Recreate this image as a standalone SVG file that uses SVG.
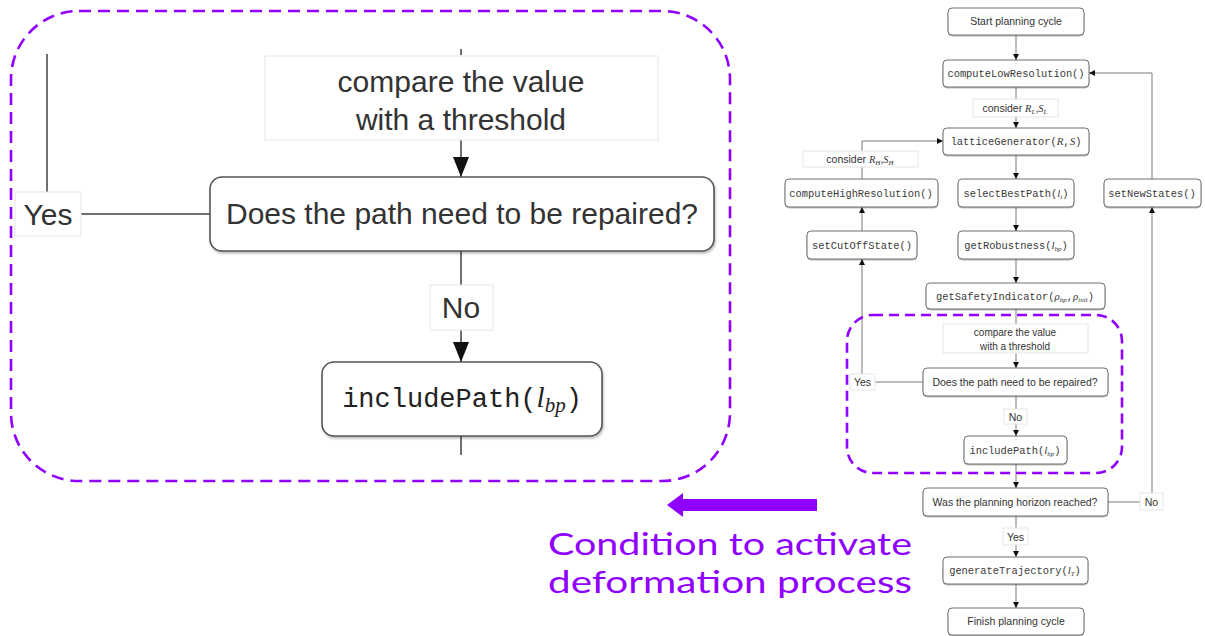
<svg xmlns="http://www.w3.org/2000/svg" width="1205" height="636" viewBox="0 0 1205 636">
  <style>
    .bg { fill: #ffffff; }
    .box { fill: #ffffff; stroke: #6e6e6e; stroke-width: 1; filter: drop-shadow(0.6px 1px 0.6px rgba(0,0,0,0.25)); }
    .bigbox { fill: #ffffff; stroke: #555555; stroke-width: 1.6; filter: drop-shadow(1px 2px 1px rgba(0,0,0,0.25)); }
    .lbl { fill: #ffffff; stroke: #e6e6e6; stroke-width: 1; }
    .edge { fill: none; stroke: #7a7a7a; stroke-width: 1; }
    .bigedge { fill: none; stroke: #707070; stroke-width: 2; }
    .sans { font-family: "Liberation Sans", Arial, sans-serif; fill: #333333; }
    .mono { font-family: "Liberation Mono", "Courier New", monospace; fill: #3a3a3a; }
    .mi { font-family: "Liberation Serif", "Times New Roman", serif; font-style: italic; }
    .s { font-size: 10.5px; }
    .m { font-size: 10.4px; }
    .big { font-size: 30px; }
    .bigm { font-size: 27px; fill: #222222; }
    .zone { fill: none; stroke: #9000ff; stroke-width: 2.6; stroke-dasharray: 12 7; }
    .zone-s { fill: none; stroke: #9000ff; stroke-width: 2.6; stroke-dasharray: 10 6; }
    .note { font-family: Lato, "Open Sans", sans-serif; font-size: 31px; fill: #9000ff; }
  </style>
  <defs>
    <marker id="ah-s" viewBox="0 0 10 10" refX="10" refY="5" markerWidth="6" markerHeight="6" markerUnits="userSpaceOnUse" orient="auto">
      <path d="M0,0 L10,5 L0,10 z" fill="#111111"/>
    </marker>
    <marker id="ah-b" viewBox="0 0 10 8" refX="10" refY="4" markerWidth="20" markerHeight="16" markerUnits="userSpaceOnUse" orient="auto">
      <path d="M0,0 L10,4 L0,8 z" fill="#111111"/>
    </marker>
  </defs>

  <rect class="bg" x="0" y="0" width="1205" height="636"/>

  <!-- ===== enlarged view of the repair decision ===== -->
  <g id="zoom-connectors">
    <line class="bigedge" x1="461" y1="49" x2="461" y2="55"/>
    <line class="bigedge" x1="461" y1="140" x2="461" y2="177" marker-end="url(#ah-b)"/>
    <line class="bigedge" x1="461" y1="251" x2="461" y2="285"/>
    <line class="bigedge" x1="461" y1="330" x2="461" y2="362" marker-end="url(#ah-b)"/>
    <line class="bigedge" x1="461" y1="436" x2="461" y2="455"/>
    <line class="bigedge" x1="81" y1="214" x2="210" y2="214"/>
    <line class="bigedge" x1="47" y1="192" x2="47" y2="54"/>
  </g>

  <g id="zoom-compare">
    <rect class="lbl" x="265" y="56" width="393" height="84"/>
    <text class="sans big" x="461" y="92" text-anchor="middle">compare the value</text>
    <text class="sans big" x="461" y="130" text-anchor="middle">with a threshold</text>
  </g>

  <g id="zoom-decision">
    <rect class="bigbox" x="210" y="177" width="504" height="74" rx="12"/>
    <text class="sans big" x="462" y="224" text-anchor="middle">Does the path need to be repaired?</text>
  </g>

  <g id="zoom-yes">
    <rect class="lbl" x="15" y="192" width="66" height="44"/>
    <text class="sans big" x="48" y="225" text-anchor="middle">Yes</text>
  </g>

  <g id="zoom-no">
    <rect class="lbl" x="430" y="285" width="63" height="45"/>
    <text class="sans big" x="461" y="318" text-anchor="middle">No</text>
  </g>

  <g id="zoom-include">
    <rect class="bigbox" x="322" y="362" width="280" height="74" rx="12"/>
    <text class="mono bigm" x="462" y="407" text-anchor="middle">includePath(<tspan class="mi" font-size="29">l</tspan><tspan class="mi" font-size="21" dy="5">bp</tspan><tspan dy="-5">)</tspan></text>
  </g>

  <rect id="zoom-frame" class="zone" x="11" y="11" width="719" height="470" rx="68"/>

  <!-- ===== pointer and caption ===== -->
  <g id="pointer">
    <rect x="678" y="499" width="139" height="12" fill="#9000ff"/>
    <path d="M667,505 L683,493 L683,517 z" fill="#9000ff"/>
  </g>
  <g id="caption">
    <text class="note" x="548" y="555" textLength="364" lengthAdjust="spacingAndGlyphs">Condition to activate</text>
    <text class="note" x="548" y="593" textLength="364" lengthAdjust="spacingAndGlyphs">deformation process</text>
  </g>

  <!-- ===== planning cycle flowchart ===== -->
  <g id="connectors">
    <line class="edge" x1="1016" y1="35" x2="1016" y2="60" marker-end="url(#ah-s)"/>
    <line class="edge" x1="1016" y1="87" x2="1016" y2="99"/>
    <line class="edge" x1="1016" y1="117" x2="1016" y2="128" marker-end="url(#ah-s)"/>
    <line class="edge" x1="1016" y1="155" x2="1016" y2="179" marker-end="url(#ah-s)"/>
    <line class="edge" x1="1016" y1="207" x2="1016" y2="231" marker-end="url(#ah-s)"/>
    <line class="edge" x1="1016" y1="259" x2="1016" y2="283" marker-end="url(#ah-s)"/>
    <line class="edge" x1="1016" y1="309" x2="1016" y2="324"/>
    <line class="edge" x1="1016" y1="353" x2="1016" y2="368" marker-end="url(#ah-s)"/>
    <line class="edge" x1="1016" y1="396" x2="1016" y2="409"/>
    <line class="edge" x1="1016" y1="424" x2="1016" y2="436" marker-end="url(#ah-s)"/>
    <line class="edge" x1="1016" y1="464" x2="1016" y2="488" marker-end="url(#ah-s)"/>
    <line class="edge" x1="1016" y1="516" x2="1016" y2="528"/>
    <line class="edge" x1="1016" y1="545" x2="1016" y2="557" marker-end="url(#ah-s)"/>
    <line class="edge" x1="1016" y1="584" x2="1016" y2="608" marker-end="url(#ah-s)"/>
    <!-- repair branch -->
    <line class="edge" x1="923" y1="382" x2="875" y2="382"/>
    <line class="edge" x1="862" y1="374" x2="862" y2="259" marker-end="url(#ah-s)"/>
    <line class="edge" x1="862" y1="231" x2="862" y2="207" marker-end="url(#ah-s)"/>
    <line class="edge" x1="862" y1="179" x2="862" y2="167"/>
    <polyline class="edge" points="862,151 862,141 943,141" marker-end="url(#ah-s)"/>
    <!-- horizon not reached -->
    <line class="edge" x1="1108" y1="502" x2="1140" y2="502"/>
    <line class="edge" x1="1152" y1="493" x2="1152" y2="207" marker-end="url(#ah-s)"/>
    <polyline class="edge" points="1152,179 1152,73 1089,73" marker-end="url(#ah-s)"/>
  </g>

  <g id="start">
    <rect class="box" x="948" y="8" width="136" height="27" rx="4"/>
    <text class="sans s" x="1016" y="25" text-anchor="middle">Start planning cycle</text>
  </g>
  <g id="compute-low">
    <rect class="box" x="943" y="60" width="146" height="27" rx="4"/>
    <text class="mono m" x="1016" y="77" text-anchor="middle">computeLowResolution()</text>
  </g>
  <g id="consider-low">
    <rect class="lbl" x="973" y="99" width="85" height="18"/>
    <text class="sans s" x="1015" y="112" text-anchor="middle">consider <tspan class="mi">R</tspan><tspan class="mi" font-size="7" dy="2">L</tspan><tspan dy="-2">,</tspan><tspan class="mi">S</tspan><tspan class="mi" font-size="7" dy="2">L</tspan></text>
  </g>
  <g id="lattice">
    <rect class="box" x="943" y="128" width="146" height="27" rx="4"/>
    <text class="mono m" x="1016" y="145" text-anchor="middle">latticeGenerator(<tspan class="mi" font-size="11">R</tspan>,<tspan class="mi" font-size="11">S</tspan>)</text>
  </g>
  <g id="consider-high">
    <rect class="lbl" x="803" y="151" width="115" height="16"/>
    <text class="sans s" x="860" y="163" text-anchor="middle">consider <tspan class="mi">R</tspan><tspan class="mi" font-size="7" dy="2">H</tspan><tspan dy="-2">,</tspan><tspan class="mi">S</tspan><tspan class="mi" font-size="7" dy="2">H</tspan></text>
  </g>
  <g id="compute-high">
    <rect class="box" x="785" y="179" width="153" height="28" rx="4"/>
    <text class="mono m" x="861" y="197" text-anchor="middle">computeHighResolution()</text>
  </g>
  <g id="select-best">
    <rect class="box" x="958" y="179" width="116" height="28" rx="4"/>
    <text class="mono m" x="1016" y="197" text-anchor="middle">selectBestPath(<tspan class="mi" font-size="11">l</tspan><tspan class="mi" font-size="7" dy="2">i</tspan><tspan dy="-2">)</tspan></text>
  </g>
  <g id="new-states">
    <rect class="box" x="1104" y="179" width="97" height="28" rx="4"/>
    <text class="mono m" x="1152" y="197" text-anchor="middle">setNewStates()</text>
  </g>
  <g id="cut-off">
    <rect class="box" x="807" y="231" width="110" height="28" rx="4"/>
    <text class="mono m" x="862" y="249" text-anchor="middle">setCutOffState()</text>
  </g>
  <g id="robustness">
    <rect class="box" x="958" y="231" width="116" height="28" rx="4"/>
    <text class="mono m" x="1016" y="249" text-anchor="middle">getRobustness(<tspan class="mi" font-size="11">l</tspan><tspan class="mi" font-size="7" dy="2">bp</tspan><tspan dy="-2">)</tspan></text>
  </g>
  <g id="safety">
    <rect class="box" x="926" y="283" width="179" height="26" rx="4"/>
    <text class="mono m" x="1015" y="300" text-anchor="middle">getSafetyIndicator(<tspan class="mi" font-size="11">ρ</tspan><tspan class="mi" font-size="7" dy="2">bp</tspan><tspan dy="-2">,</tspan><tspan class="mi" font-size="11">ρ</tspan><tspan class="mi" font-size="7" dy="2">init</tspan><tspan dy="-2">)</tspan></text>
  </g>
  <g id="compare">
    <rect class="lbl" x="943" y="324" width="145" height="29"/>
    <text class="sans" font-size="10" x="1015" y="336" text-anchor="middle">compare the value</text>
    <text class="sans" font-size="10" x="1015" y="350" text-anchor="middle">with a threshold</text>
  </g>
  <g id="repair">
    <rect class="box" x="923" y="368" width="185" height="28" rx="4"/>
    <text class="sans s" x="1015" y="386" text-anchor="middle">Does the path need to be repaired?</text>
  </g>
  <g id="repair-yes">
    <rect class="lbl" x="850" y="374" width="25" height="16"/>
    <text class="sans s" x="862.5" y="386" text-anchor="middle">Yes</text>
  </g>
  <g id="repair-no">
    <rect class="lbl" x="1004" y="409" width="23" height="15"/>
    <text class="sans s" x="1015.5" y="420.5" text-anchor="middle">No</text>
  </g>
  <g id="include">
    <rect class="box" x="964" y="436" width="103" height="28" rx="4"/>
    <text class="mono m" x="1015" y="454" text-anchor="middle">includePath(<tspan class="mi" font-size="11">l</tspan><tspan class="mi" font-size="7" dy="2">bp</tspan><tspan dy="-2">)</tspan></text>
  </g>
  <g id="horizon">
    <rect class="box" x="923" y="488" width="185" height="28" rx="4"/>
    <text class="sans s" x="1015" y="506" text-anchor="middle">Was the planning horizon reached?</text>
  </g>
  <g id="horizon-no">
    <rect class="lbl" x="1140" y="493" width="23" height="17"/>
    <text class="sans s" x="1151.5" y="506" text-anchor="middle">No</text>
  </g>
  <g id="horizon-yes">
    <rect class="lbl" x="1003" y="528" width="25" height="17"/>
    <text class="sans s" x="1015.5" y="540.5" text-anchor="middle">Yes</text>
  </g>
  <g id="trajectory">
    <rect class="box" x="943" y="557" width="145" height="27" rx="4"/>
    <text class="mono m" x="1015" y="574" text-anchor="middle">generateTrajectory(<tspan class="mi" font-size="11">l</tspan><tspan class="mi" font-size="7" dy="2">T</tspan><tspan dy="-2">)</tspan></text>
  </g>
  <g id="finish">
    <rect class="box" x="948" y="608" width="136" height="27" rx="4"/>
    <text class="sans s" x="1016" y="625" text-anchor="middle">Finish planning cycle</text>
  </g>

  <rect id="repair-frame" class="zone-s" x="847" y="315" width="275" height="158" rx="26"/>
</svg>
